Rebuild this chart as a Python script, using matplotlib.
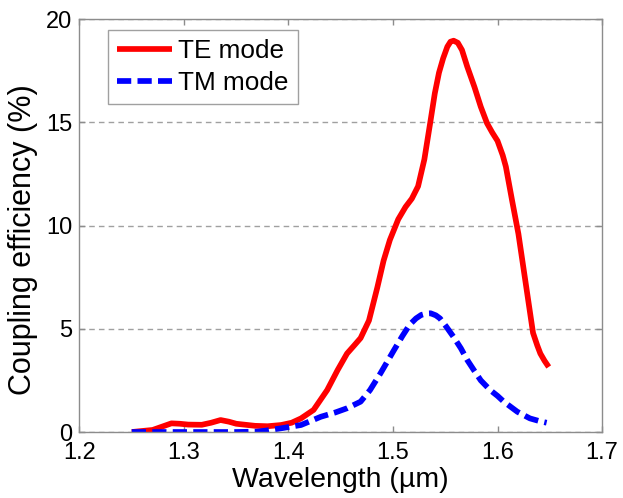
import matplotlib
matplotlib.use('Agg')
import matplotlib.pyplot as plt

plt.rcParams['font.family'] = ['Liberation Sans', 'DejaVu Sans']

# wavelength (um) and coupling efficiency (%)
te_wl = [1.25, 1.27, 1.288, 1.296, 1.304, 1.317, 1.326, 1.335, 1.343, 1.35,
         1.368, 1.38, 1.393, 1.403, 1.412, 1.424, 1.437, 1.447, 1.456, 1.463,
         1.469, 1.477, 1.485, 1.491, 1.497, 1.505, 1.512, 1.518, 1.524, 1.530,
         1.536, 1.540, 1.544, 1.548, 1.552, 1.555, 1.558, 1.562, 1.566, 1.571,
         1.578, 1.584, 1.590, 1.595, 1.600, 1.605, 1.608, 1.614, 1.620, 1.627,
         1.634, 1.638, 1.641, 1.645, 1.649]
te = [0.0, 0.1, 0.42, 0.4, 0.36, 0.35, 0.45, 0.58, 0.5, 0.4,
      0.3, 0.28, 0.34, 0.45, 0.66, 1.07, 2.03, 3.0, 3.8, 4.2,
      4.55, 5.4, 7.0, 8.3, 9.3, 10.3, 10.9, 11.3, 11.9, 13.2,
      15.1, 16.4, 17.4, 18.1, 18.66, 18.9, 18.95, 18.85, 18.5, 17.7,
      16.7, 15.75, 14.95, 14.5, 14.1, 13.4, 12.85, 11.2, 9.6, 7.2,
      4.8, 4.2, 3.8, 3.45, 3.15]

tm_wl = [1.25, 1.30, 1.35, 1.37, 1.38, 1.393, 1.412, 1.431, 1.445, 1.456,
         1.469, 1.478, 1.488, 1.501, 1.509, 1.516, 1.522, 1.527, 1.532, 1.536,
         1.541, 1.545, 1.551, 1.558, 1.565, 1.571, 1.578, 1.584, 1.593, 1.600,
         1.606, 1.619, 1.631, 1.640, 1.647]
tm = [0.0, 0.0, 0.0, 0.02, 0.08, 0.18, 0.34, 0.74, 0.95, 1.15,
      1.47, 2.03, 2.84, 3.97, 4.65, 5.2, 5.5, 5.67, 5.74, 5.75,
      5.65, 5.5, 5.1, 4.6, 4.05, 3.49, 2.95, 2.5, 2.03, 1.75,
      1.47, 0.98, 0.66, 0.53, 0.45]

xticks = [1.2, 1.3, 1.4, 1.5, 1.6, 1.7]
yticks = [0, 5, 10, 15, 20]

fig = plt.figure(figsize=(6.23, 4.98), dpi=100)
ax = fig.add_axes([0.1276, 0.1325, 0.8387, 0.8293])

ax.plot(te_wl, te, color='#ff0000', lw=4.1, label='TE mode',
        solid_capstyle='butt', solid_joinstyle='round')
ax.plot(tm_wl, tm, color='#0000ff', lw=4.1, label='TM mode',
        dashes=[2.5, 1.1], dash_capstyle='butt', dash_joinstyle='round')

ax.set_xlim(1.2, 1.7)
ax.set_ylim(0, 20)
ax.set_xticks(xticks)
ax.set_yticks(yticks)
ax.set_xticklabels([f'{v:.1f}' for v in xticks])
ax.set_yticklabels([str(v) for v in yticks])

ax.yaxis.grid(True, color='#a0a0a0', lw=1, linestyle=(0, (4, 3)))
ax.set_axisbelow(True)

for s in ax.spines.values():
    s.set_color('#8c8c8c')
    s.set_linewidth(1)
ax.tick_params(direction='in', length=4, width=1, color='#8c8c8c',
               top=True, right=True, labelsize=17, labelcolor='black')
ax.tick_params(axis='x', pad=7)
ax.tick_params(axis='y', pad=5)

ax.set_xlabel('Wavelength (µm)', fontsize=20.5, labelpad=2)
ax.set_ylabel('Coupling efficiency (%)', fontsize=22)
ax.yaxis.set_label_coords(-0.079, 0.465)

leg = ax.legend(loc='upper left', bbox_to_anchor=(0.054, 0.973), borderaxespad=0,
                fontsize=18.8, handlelength=2.1, handletextpad=0.25,
                labelspacing=0.3, borderpad=0.35, fancybox=False, framealpha=1)
leg.get_frame().set_edgecolor('#a0a0a0')
leg.get_frame().set_linewidth(1)

plt.savefig('out.png', dpi=100)
